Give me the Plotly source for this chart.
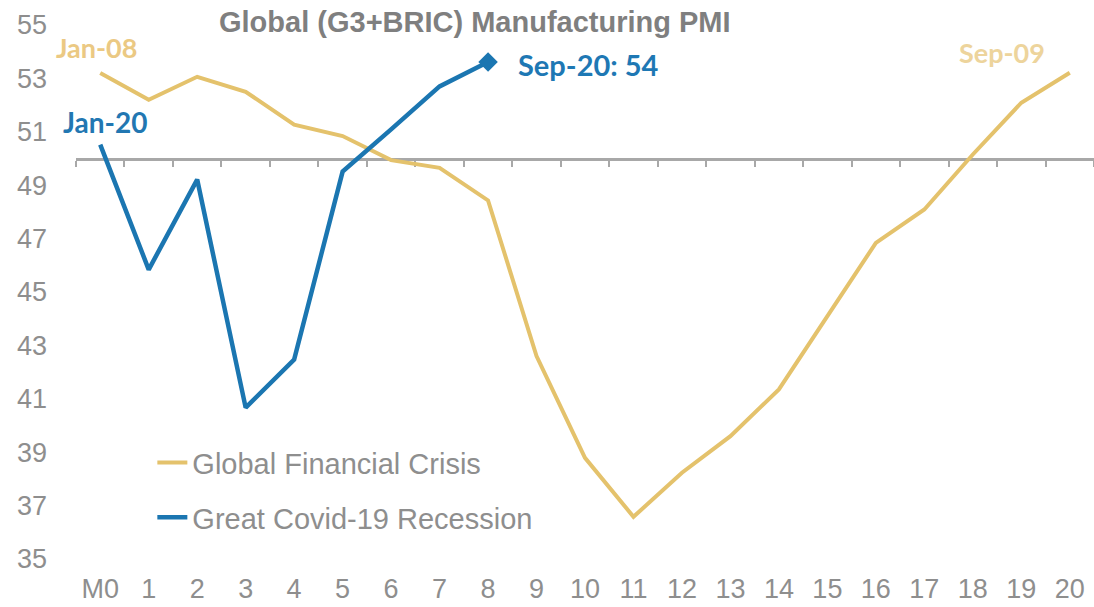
import plotly.graph_objects as go

# Month index since the start of each downturn
categories = ["M0"] + [str(i) for i in range(1, 21)]

# Global (G3+BRIC) manufacturing PMI, Jan-08 .. Sep-09
gfc_pmi = [53.2, 52.2, 53.06, 52.5, 51.27, 50.84, 49.94, 49.65, 48.43, 42.6,
           38.79, 36.58, 38.23, 39.6, 41.35, 44.09, 46.84, 48.09, 50.15, 52.09, 53.21]

# Global (G3+BRIC) manufacturing PMI, Jan-20 .. Sep-20
covid_pmi = [50.52, 45.84, 49.21, 40.67, 42.47, 49.51, 51.09, 52.7, 53.61]

y_ticks = list(range(35, 56, 2))
y_range = [35, 55]
threshold = 50

gold = "#E4C26C"
blue = "#1B76B1"
grey_text = "#8E8E8E"
tick_font = dict(family="Liberation Sans, Arial, sans-serif", size=27, color=grey_text)
note_font = "Lato, Open Sans, sans-serif"

fig = go.Figure()

fig.add_trace(go.Scatter(
    x=categories, y=gfc_pmi, name="Global Financial Crisis",
    mode="lines", line=dict(color=gold, width=4), legendgroup="gfc",
    xaxis="x", yaxis="y",
))
fig.add_trace(go.Scatter(
    x=categories[:len(covid_pmi)], y=covid_pmi, name="Great Covid-19 Recession",
    mode="lines", line=dict(color=blue, width=4.5), legendgroup="covid",
    xaxis="x2", yaxis="y",
))
# Latest reading highlighted with a diamond
fig.add_trace(go.Scatter(
    x=[categories[len(covid_pmi) - 1]], y=[covid_pmi[-1]], mode="markers",
    marker=dict(symbol="diamond", size=15, color=blue), showlegend=False,
    xaxis="x2", yaxis="y",
))

annotations = [
    dict(x=categories[0], y=gfc_pmi[0], text="Jan-08", xshift=-4, yshift=26,
         font=dict(family=note_font, size=27, color="#EBC983")),
    dict(x=categories[0], y=covid_pmi[0], text="Jan-20", xshift=5, yshift=23,
         font=dict(family=note_font, size=28, color="#2277B2")),
    dict(x=categories[len(covid_pmi) - 1], y=covid_pmi[-1],
         text=f"Sep-20: {round(covid_pmi[-1])}", xanchor="left", xshift=28, yshift=-2,
         font=dict(family=note_font, size=29, color="#1E78B4")),
    dict(x=categories[-1], y=gfc_pmi[-1], text="Sep-09", xshift=-68, yshift=20,
         font=dict(family=note_font, size=27, color="#EDD49C")),
]
for a in annotations:
    a.update(xref="x", yref="y", showarrow=False)
    a["text"] = f"<b>{a['text']}</b>"

threshold_pos = (threshold - y_range[0]) / (y_range[1] - y_range[0])

fig.update_layout(
    width=1094, height=607,
    margin=dict(l=76, r=0, t=25, b=48),
    paper_bgcolor="white", plot_bgcolor="white",
    title=dict(text="<b>Global (G3+BRIC) Manufacturing PMI</b>",
               x=0.434, xanchor="center", y=0.964, yanchor="middle",
               font=dict(family="Liberation Sans, Arial, sans-serif", size=29, color="#7F7F7F")),
    xaxis=dict(type="category", categoryorder="array", categoryarray=categories,
               range=[-0.5, len(categories) - 0.5], showgrid=False, zeroline=False,
               showline=False, ticks="", tickfont=tick_font, ticklabelstandoff=11),
    xaxis2=dict(type="category", categoryorder="array", categoryarray=categories,
                range=[-0.5, len(categories) - 0.5], overlaying="x", anchor="free",
                position=threshold_pos, side="bottom", showgrid=False, zeroline=False,
                showline=True, linecolor="#A8A8A8", linewidth=3,
                ticks="outside", tickson="boundaries", ticklen=6, tickwidth=2,
                tickcolor="#A8A8A8", showticklabels=False, layer="below traces"),
    yaxis=dict(range=y_range, tickvals=y_ticks, showgrid=False, zeroline=False,
               showline=False, ticks="", tickfont=tick_font, ticklabelstandoff=28),
    legend=dict(x=0.075, xanchor="left", y=0.228, yanchor="top",
                bgcolor="rgba(0,0,0,0)", tracegroupgap=14,
                font=dict(family="Liberation Sans, Arial, sans-serif", size=29, color=grey_text)),
    annotations=annotations,
    showlegend=True,
)

fig.write_html("out.html")
